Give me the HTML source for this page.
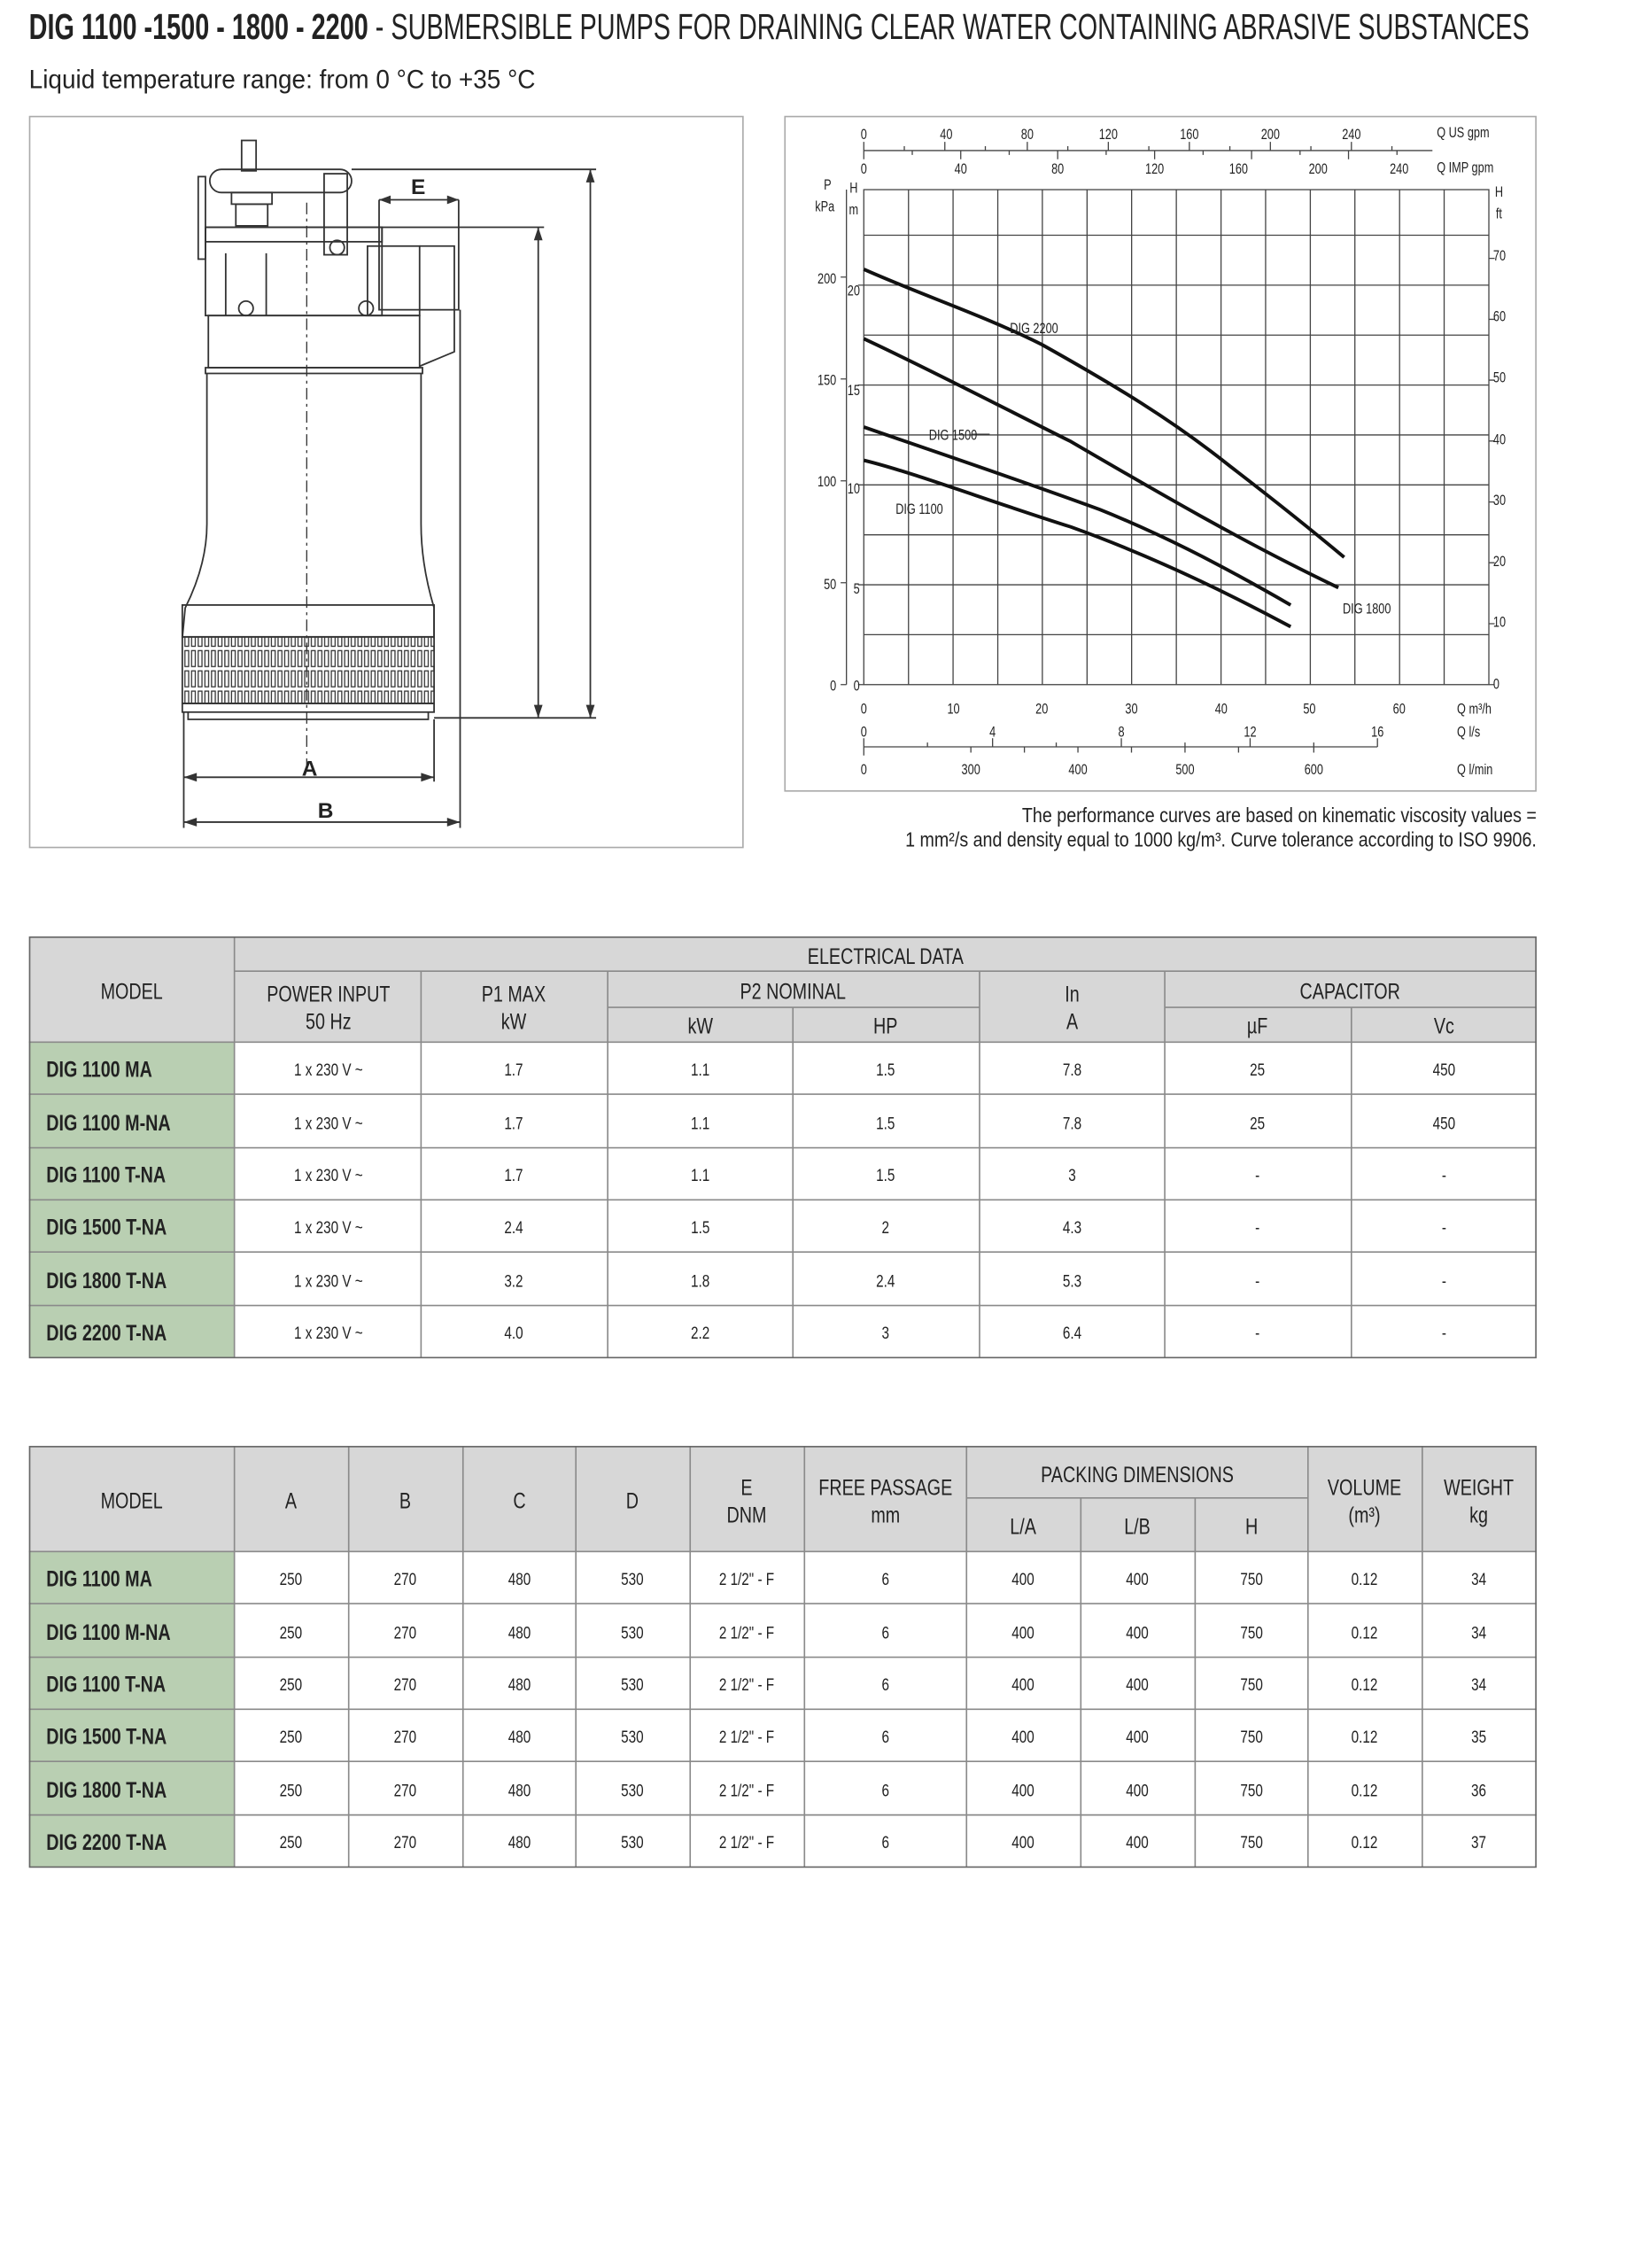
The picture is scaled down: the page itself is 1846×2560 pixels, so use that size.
<!DOCTYPE html>
<html><head><meta charset="utf-8"><style>
html,body{margin:0;padding:0;background:#fff}
svg{display:block}
text{font-family:"Liberation Sans Narrow","Liberation Sans",sans-serif;fill:#222;transform-box:fill-box;transform-origin:center;transform:scaleX(.78)}
text.nt{transform:none}
.m text,text.m,.l text{transform-origin:left center}
.r text{transform-origin:right center}
.cap text{transform:scaleX(.86)}
.h{font-size:15.5px}
.d{font-size:12px;fill:#444}
.m{font-size:15.5px;font-weight:bold}
.t{font-size:10px;fill:#333}
</style></head><body>
<svg width="1846" height="2560" viewBox="0 0 1130 1567" xmlns="http://www.w3.org/2000/svg">
<defs>
<pattern id="str" x="127" y="0" width="4.6" height="14" patternUnits="userSpaceOnUse">
<rect x="0.8" y="1.5" width="2.6" height="11" fill="none" stroke="#333" stroke-width="0.8"/>
</pattern>
</defs>
<text class="nt" x="20" y="27" font-size="25" textLength="1037" lengthAdjust="spacingAndGlyphs"><tspan font-weight="bold">DIG 1100 -1500 - 1800 - 2200</tspan> - SUBMERSIBLE PUMPS FOR DRAINING CLEAR WATER CONTAINING ABRASIVE SUBSTANCES</text>
<text class="nt" x="20" y="61" font-size="18" textLength="350" lengthAdjust="spacingAndGlyphs">Liquid temperature range: from 0 °C to +35 °C</text>

<rect x="20.5" y="80.5" width="493" height="505" fill="none" stroke="#aaa"/>
<g fill="none" stroke="#333" stroke-width="1.1">
<rect x="167" y="97" width="10" height="21"/>
<rect x="145" y="117" width="98" height="16" rx="8"/>
<rect x="137" y="122" width="5" height="57"/>
<rect x="224" y="120" width="16" height="56"/>
<circle cx="233" cy="171" r="5"/>
<rect x="160" y="133" width="28" height="8"/>
<rect x="163" y="141" width="22" height="15"/>
<rect x="142" y="157" width="122" height="10"/>
<rect x="142" y="157" width="122" height="61"/>
<rect x="262" y="157" width="55" height="57"/>
<rect x="254" y="170" width="36" height="48"/>
<path d="M290 170 L314 170 L314 243 L290 253"/>
<path d="M156 175 L156 218 M184 175 L184 218"/>
<circle cx="170" cy="213" r="5"/><circle cx="253" cy="213" r="5"/>
<rect x="144" y="218" width="146" height="36"/>
<path d="M142 254 L292 254 L292 258 L142 258Z"/>
<path d="M143 258 L143 362 Q143 390 128 420 L126 441 M291 258 L291 362 Q291 390 300 420 L300 441"/>
<rect x="126" y="418" width="174" height="22"/>
<rect x="126" y="440" width="174" height="46"/>
<rect x="126" y="440" width="174" height="46" fill="url(#str)" stroke="none"/>
<rect x="126" y="486" width="174" height="6"/>
<path d="M130 492 L130 497 L296 497 L296 492"/>
<path d="M212 140 L212 535" stroke-dasharray="8 3 2 3" stroke-width="0.8"/>
<path d="M243 117 L412 117 M317 157 L376 157 M300 496 L412 496"/>
<path d="M408 117 L408 496 M372 157 L372 496"/>
<path d="M262 138 L262 157 M317 138 L317 157 M262 138 L317 138"/>
<path d="M127 492 L127 572 M300 497 L300 540 M318 214 L318 572"/>
<path d="M127 537 L300 537 M127 568 L318 568"/>
</g>
<g fill="#333">
<path d="M408 117 l-3 9 h6z M408 496 l-3 -9 h6z M372 157 l-3 9 h6z M372 496 l-3 -9 h6z"/>
<path d="M262 138 l8 -3 v6z M317 138 l-8 -3 v6z M127 537 l9 -3 v6z M300 537 l-9 -3 v6z M127 568 l9 -3 v6z M318 568 l-9 -3 v6z"/>
</g>
<g font-family="Liberation Sans" font-weight="bold" font-size="15">
<text class="nt" x="289" y="134" text-anchor="middle">E</text>
<text class="nt" x="214" y="536" text-anchor="middle">A</text>
<text class="nt" x="225" y="565" text-anchor="middle">B</text>
<text class="nt" transform="translate(368,327) rotate(-90)" text-anchor="middle">C</text>
<text class="nt" transform="translate(403,305) rotate(-90)" text-anchor="middle">D</text>
</g>

<rect x="542.5" y="80.5" width="519" height="466" fill="none" stroke="#aaa"/>
<g stroke="#444" stroke-width="0.8" fill="none">
<rect x="597" y="131" width="432" height="342"/>
<path d="M627.9 131V473M658.7 131V473M689.6 131V473M720.4 131V473M751.3 131V473M782.1 131V473M813 131V473M843.9 131V473M874.7 131V473M905.6 131V473M936.4 131V473M967.3 131V473M998.1 131V473"/>
<path d="M597 438.5H1029M597 404H1029M597 369.5H1029M597 335H1029M597 300.5H1029M597 266H1029M597 231.5H1029M597 197H1029M597 162.5H1029"/>
<path d="M585 131V473 M581 473h4 M581 402.6h4 M581 332.2h4 M581 261.8h4 M581 191.4h4"/>
<path d="M593 473h4 M593 404h4 M593 335h4 M593 266h4 M593 197h4"/>
<path d="M1029 473h4 M1029 430.9h4 M1029 388.8h4 M1029 346.8h4 M1029 304.7h4 M1029 262.6h4 M1029 220.6h4 M1029 178.5h4"/>
<path d="M597 104H990"/>
<path d="M597 98v6M625 101v3M653 98v6M681 101v3M710 98v6M738 101v3M766 98v6M794 101v3M822 98v6M850 101v3M878 98v6M906 101v3M934 98v6M962 101v3"/>
<path d="M597 104v6M630.5 104v3M664 104v6M697.5 104v3M731 104v6M764.5 104v3M798 104v6M831.5 104v3M865 104v6M898.5 104v3M932 104v6M965.5 104v3"/>
<path d="M597 516H952"/>
<path d="M597 510v6M641 513v3M686 510v6M730 513v3M775 510v6M819 513v3M864 510v6M908 513v3M952 510v6"/>
<path d="M597 516v6M671 516v4M708 516v4M745 516v4M782 516v4M819 516v4M856 516v4M908 516v4"/>
</g>
<g stroke="#111" stroke-width="2.4" fill="none">
<path d="M597 186 C640 205, 680 218, 720 238 C770 266, 810 290, 850 322 C880 345, 905 365, 929 385"/>
<path d="M597 234 C640 254, 690 280, 740 305 C800 340, 860 375, 925 406"/>
<path d="M597 295 C640 310, 700 330, 760 352 C800 368, 840 388, 892 418"/>
<path d="M597 318 C630 326, 680 345, 740 364 C790 382, 840 405, 892 433"/>
</g>
<path d="M672 300 H684" stroke="#333" stroke-width="0.8"/>
<g class="t l" font-size="11.5">
<text x="698" y="230">DIG 2200</text>
<text x="642" y="304">DIG 1500</text>
<text x="619" y="355">DIG 1100</text>
<text x="928" y="424">DIG 1800</text>
</g>
<g class="t r" text-anchor="end">
<text x="578" y="196">200</text><text x="578" y="266">150</text><text x="578" y="336">100</text><text x="578" y="407">50</text><text x="578" y="477">0</text>
</g>
<g class="t" text-anchor="middle">
<text x="590" y="204">20</text><text x="590" y="273">15</text><text x="590" y="341">10</text><text x="592" y="410">5</text><text x="592" y="477">0</text>
<text x="572" y="131">P</text><text x="570" y="146">kPa</text><text x="590" y="133">H</text><text x="590" y="148">m</text>
<text x="1036" y="136">H</text><text x="1036" y="151">ft</text>
</g>
<g class="t l">
<text x="1032" y="180">70</text><text x="1032" y="222">60</text><text x="1032" y="264">50</text><text x="1032" y="307">40</text><text x="1032" y="349">30</text><text x="1032" y="391">20</text><text x="1032" y="433">10</text><text x="1032" y="476">0</text>
<text x="993" y="95">Q US gpm</text><text x="993" y="119">Q IMP gpm</text>
<text x="1007" y="493">Q m³/h</text><text x="1007" y="509">Q l/s</text><text x="1007" y="535">Q l/min</text>
</g>
<g class="t" text-anchor="middle">
<text x="597" y="96">0</text><text x="654" y="96">40</text><text x="710" y="96">80</text><text x="766" y="96">120</text><text x="822" y="96">160</text><text x="878" y="96">200</text><text x="934" y="96">240</text>
<text x="597" y="120">0</text><text x="664" y="120">40</text><text x="731" y="120">80</text><text x="798" y="120">120</text><text x="856" y="120">160</text><text x="911" y="120">200</text><text x="967" y="120">240</text>
<text x="597" y="493">0</text><text x="659" y="493">10</text><text x="720" y="493">20</text><text x="782" y="493">30</text><text x="844" y="493">40</text><text x="905" y="493">50</text><text x="967" y="493">60</text>
<text x="597" y="509">0</text><text x="686" y="509">4</text><text x="775" y="509">8</text><text x="864" y="509">12</text><text x="952" y="509">16</text>
<text x="597" y="535">0</text><text x="671" y="535">300</text><text x="745" y="535">400</text><text x="819" y="535">500</text><text x="908" y="535">600</text>
</g>
<g font-size="14" text-anchor="end" class="r cap">
<text x="1062" y="568" fill="#333">The performance curves are based on kinematic viscosity values =</text>
<text x="1062" y="585" fill="#333">1 mm²/s and density equal to 1000 kg/m³. Curve tolerance according to ISO 9906.</text>
</g>

<rect x="20" y="647" width="1042" height="73" fill="#d7d7d7"/>
<rect x="20" y="720" width="142" height="218" fill="#b9cfb2"/>
<g stroke="#8a8a8a" stroke-width="1" fill="none">
<path d="M162 671H1062M420 696H677M805 696H1062"/>
<path d="M20 720H1062M20 756H1062M20 793H1062M20 829H1062M20 865H1062M20 902H1062"/>
<path d="M162 647V938M291 671V938M420 671V938M548 696V938M677 671V938M805 671V938M934 696V938"/>
<rect x="20.5" y="647.5" width="1041" height="290.5" stroke="#666"/>
</g>
<g class="h" text-anchor="middle">
<text x="91" y="690">MODEL</text>
<text x="612" y="666">ELECTRICAL DATA</text>
<text x="227" y="692">POWER INPUT</text><text x="227" y="711">50 Hz</text>
<text x="355" y="692">P1 MAX</text><text x="355" y="711">kW</text>
<text x="548" y="690">P2 NOMINAL</text>
<text x="484" y="714">kW</text><text x="612" y="714">HP</text>
<text x="741" y="692">In</text><text x="741" y="711">A</text>
<text x="933" y="690">CAPACITOR</text>
<text x="869" y="714">µF</text><text x="998" y="714">Vc</text>
</g>
<g class="m">
<text x="32" y="744">DIG 1100 MA</text><text x="32" y="781">DIG 1100 M-NA</text><text x="32" y="817">DIG 1100 T-NA</text>
<text x="32" y="853">DIG 1500 T-NA</text><text x="32" y="890">DIG 1800 T-NA</text><text x="32" y="926">DIG 2200 T-NA</text>
</g>
<g class="d" text-anchor="middle">
<text x="227" y="743">1 x 230 V ~</text><text x="355" y="743">1.7</text><text x="484" y="743">1.1</text><text x="612" y="743">1.5</text><text x="741" y="743">7.8</text><text x="869" y="743">25</text><text x="998" y="743">450</text>
<text x="227" y="780">1 x 230 V ~</text><text x="355" y="780">1.7</text><text x="484" y="780">1.1</text><text x="612" y="780">1.5</text><text x="741" y="780">7.8</text><text x="869" y="780">25</text><text x="998" y="780">450</text>
<text x="227" y="816">1 x 230 V ~</text><text x="355" y="816">1.7</text><text x="484" y="816">1.1</text><text x="612" y="816">1.5</text><text x="741" y="816">3</text><text x="869" y="816">-</text><text x="998" y="816">-</text>
<text x="227" y="852">1 x 230 V ~</text><text x="355" y="852">2.4</text><text x="484" y="852">1.5</text><text x="612" y="852">2</text><text x="741" y="852">4.3</text><text x="869" y="852">-</text><text x="998" y="852">-</text>
<text x="227" y="889">1 x 230 V ~</text><text x="355" y="889">3.2</text><text x="484" y="889">1.8</text><text x="612" y="889">2.4</text><text x="741" y="889">5.3</text><text x="869" y="889">-</text><text x="998" y="889">-</text>
<text x="227" y="925">1 x 230 V ~</text><text x="355" y="925">4.0</text><text x="484" y="925">2.2</text><text x="612" y="925">3</text><text x="741" y="925">6.4</text><text x="869" y="925">-</text><text x="998" y="925">-</text>
</g>

<rect x="20" y="999" width="1042" height="73" fill="#d7d7d7"/>
<rect x="20" y="1072" width="142" height="218" fill="#b9cfb2"/>
<g stroke="#8a8a8a" stroke-width="1" fill="none">
<path d="M668 1035H904"/>
<path d="M20 1072H1062M20 1108H1062M20 1145H1062M20 1181H1062M20 1217H1062M20 1254H1062"/>
<path d="M162 999V1290M241 999V1290M320 999V1290M398 999V1290M477 999V1290M556 999V1290M668 999V1290M747 1035V1290M826 1035V1290M904 999V1290M983 999V1290"/>
<rect x="20.5" y="999.5" width="1041" height="290.5" stroke="#666"/>
</g>
<g class="h" text-anchor="middle">
<text x="91" y="1042">MODEL</text>
<text x="201" y="1042">A</text><text x="280" y="1042">B</text><text x="359" y="1042">C</text><text x="437" y="1042">D</text>
<text x="516" y="1033">E</text><text x="516" y="1052">DNM</text>
<text x="612" y="1033">FREE PASSAGE</text><text x="612" y="1052">mm</text>
<text x="786" y="1024">PACKING DIMENSIONS</text>
<text x="707" y="1060">L/A</text><text x="786" y="1060">L/B</text><text x="865" y="1060">H</text>
<text x="943" y="1033">VOLUME</text><text x="943" y="1052">(m³)</text>
<text x="1022" y="1033">WEIGHT</text><text x="1022" y="1052">kg</text>
</g>
<g class="m">
<text x="32" y="1096">DIG 1100 MA</text><text x="32" y="1133">DIG 1100 M-NA</text><text x="32" y="1169">DIG 1100 T-NA</text>
<text x="32" y="1205">DIG 1500 T-NA</text><text x="32" y="1242">DIG 1800 T-NA</text><text x="32" y="1278">DIG 2200 T-NA</text>
</g>
<g class="d" text-anchor="middle">
<text x="201" y="1095">250</text><text x="280" y="1095">270</text><text x="359" y="1095">480</text><text x="437" y="1095">530</text><text x="516" y="1095">2 1/2" - F</text><text x="612" y="1095">6</text><text x="707" y="1095">400</text><text x="786" y="1095">400</text><text x="865" y="1095">750</text><text x="943" y="1095">0.12</text><text x="1022" y="1095">34</text>
<text x="201" y="1132">250</text><text x="280" y="1132">270</text><text x="359" y="1132">480</text><text x="437" y="1132">530</text><text x="516" y="1132">2 1/2" - F</text><text x="612" y="1132">6</text><text x="707" y="1132">400</text><text x="786" y="1132">400</text><text x="865" y="1132">750</text><text x="943" y="1132">0.12</text><text x="1022" y="1132">34</text>
<text x="201" y="1168">250</text><text x="280" y="1168">270</text><text x="359" y="1168">480</text><text x="437" y="1168">530</text><text x="516" y="1168">2 1/2" - F</text><text x="612" y="1168">6</text><text x="707" y="1168">400</text><text x="786" y="1168">400</text><text x="865" y="1168">750</text><text x="943" y="1168">0.12</text><text x="1022" y="1168">34</text>
<text x="201" y="1204">250</text><text x="280" y="1204">270</text><text x="359" y="1204">480</text><text x="437" y="1204">530</text><text x="516" y="1204">2 1/2" - F</text><text x="612" y="1204">6</text><text x="707" y="1204">400</text><text x="786" y="1204">400</text><text x="865" y="1204">750</text><text x="943" y="1204">0.12</text><text x="1022" y="1204">35</text>
<text x="201" y="1241">250</text><text x="280" y="1241">270</text><text x="359" y="1241">480</text><text x="437" y="1241">530</text><text x="516" y="1241">2 1/2" - F</text><text x="612" y="1241">6</text><text x="707" y="1241">400</text><text x="786" y="1241">400</text><text x="865" y="1241">750</text><text x="943" y="1241">0.12</text><text x="1022" y="1241">36</text>
<text x="201" y="1277">250</text><text x="280" y="1277">270</text><text x="359" y="1277">480</text><text x="437" y="1277">530</text><text x="516" y="1277">2 1/2" - F</text><text x="612" y="1277">6</text><text x="707" y="1277">400</text><text x="786" y="1277">400</text><text x="865" y="1277">750</text><text x="943" y="1277">0.12</text><text x="1022" y="1277">37</text>
</g>
</svg>
</body></html>
